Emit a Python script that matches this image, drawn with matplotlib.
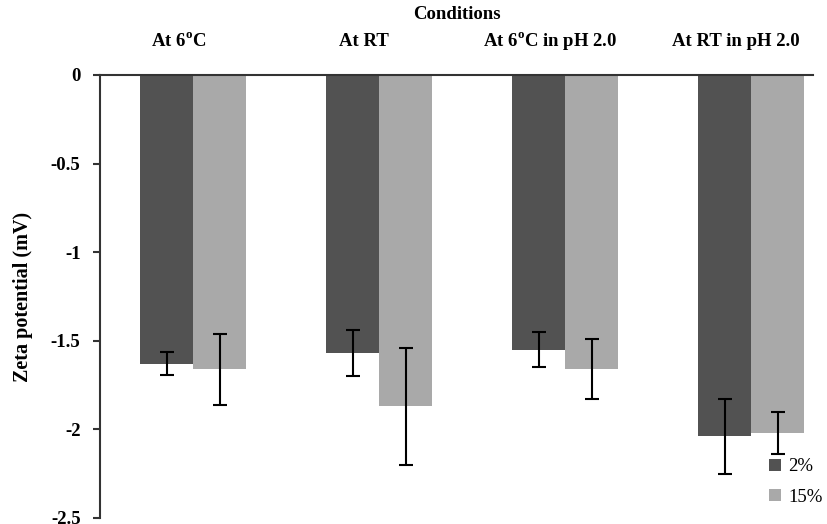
import numpy as np
import matplotlib.pyplot as plt

plt.rcParams['font.family'] = 'Liberation Serif'
plt.rcParams['mathtext.fontset'] = 'custom'
plt.rcParams['mathtext.bf'] = 'Liberation Serif:bold'
plt.rcParams['mathtext.rm'] = 'Liberation Serif'

# data
conditions = ["At 6$^{\\mathbf{o}}$C", "At RT", "At 6$^{\\mathbf{o}}$C in pH 2.0", "At RT in pH 2.0"]
zeta_2 = [-1.63, -1.57, -1.55, -2.04]
err_2 = [0.065, 0.13, 0.10, 0.21]
zeta_15 = [-1.66, -1.87, -1.66, -2.02]
err_15 = [0.20, 0.33, 0.17, 0.12]
series_names = ["2%", "15%"]

fig = plt.figure(figsize=(8.27, 5.24), dpi=100)
ax = fig.add_axes([0.121, 0.0115, 0.862, 0.8455])

x = np.arange(len(conditions))
w = 0.285
ekw = dict(ecolor='black', elinewidth=1.5, capsize=5, capthick=1.5)
ax.bar(x - w/2, zeta_2, w, color='#525252', yerr=err_2, error_kw=ekw, label=series_names[0])
ax.bar(x + w/2, zeta_15, w, color='#a9a9a9', yerr=err_15, error_kw=ekw, label=series_names[1])

ax.set_xlim(-0.5, 3.333)
ax.set_ylim(-2.5, 0)
ax.set_yticks([0, -0.5, -1, -1.5, -2, -2.5])
ax.set_yticklabels(['0', '-0.5', '-1', '-1.5', '-2', '-2.5'], fontweight='bold', fontsize=13.5)
ax.tick_params(axis='y', direction='out', length=5, width=1.5, pad=9, color='#333333')

ax.xaxis.tick_top()
ax.set_xticks(x - 0.08)
ax.set_xticklabels(conditions, fontweight='bold', fontsize=13.5)
ax.tick_params(axis='x', length=0, pad=21)
for lbl in ax.get_xticklabels():
    lbl.set_verticalalignment('baseline')

for s in ['right', 'bottom']:
    ax.spines[s].set_visible(False)
for s in ['top', 'left']:
    ax.spines[s].set_linewidth(1.5)
    ax.spines[s].set_color('#333333')

ax.set_title("Conditions", fontweight='bold', fontsize=13.5, pad=40)
ax.set_ylabel("Zeta potential (mV)", fontweight='bold', fontsize=14.5, labelpad=13)

ax.legend(loc='lower right', bbox_to_anchor=(1.037, -0.01), frameon=False, fontsize=13.5,
          handlelength=0.6, handleheight=0.6, handletextpad=0.4, labelspacing=0.7)

fig.savefig("out.png", dpi=100)
